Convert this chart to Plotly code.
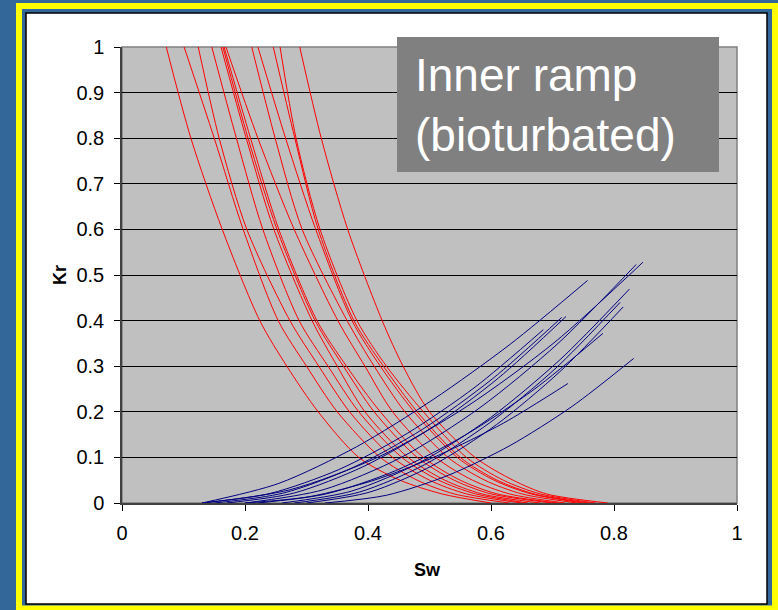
import plotly.graph_objects as go

# ---------------- data ----------------
# Oil relative permeability curves (red): Sw at fixed Kr levels
KRO_LEVELS = [1.0, 0.8, 0.6, 0.4, 0.3, 0.2, 0.1, 0.05, 0.02, 0.0]
KRO_SW_A = [0.072, 0.112, 0.163, 0.224, 0.268, 0.319, 0.385, 0.452, 0.520, 0.600]
KRO_SW_B = [0.101, 0.150, 0.197, 0.254, 0.300, 0.350, 0.420, 0.480, 0.540, 0.630]
KRO_SW_C = [0.124, 0.158, 0.203, 0.273, 0.320, 0.370, 0.440, 0.500, 0.560, 0.650]
KRO_SW_D = [0.146, 0.186, 0.229, 0.288, 0.335, 0.385, 0.455, 0.515, 0.575, 0.660]
KRO_SW_E = [0.161, 0.202, 0.247, 0.309, 0.350, 0.395, 0.465, 0.525, 0.585, 0.680]
KRO_SW_F = [0.164, 0.205, 0.252, 0.314, 0.360, 0.410, 0.480, 0.540, 0.600, 0.700]
KRO_SW_G = [0.166, 0.209, 0.255, 0.317, 0.365, 0.420, 0.490, 0.550, 0.610, 0.710]
KRO_SW_H = [0.169, 0.221, 0.280, 0.351, 0.395, 0.440, 0.510, 0.570, 0.630, 0.720]
KRO_SW_I = [0.211, 0.249, 0.293, 0.366, 0.410, 0.460, 0.530, 0.590, 0.650, 0.740]
KRO_SW_J = [0.221, 0.266, 0.315, 0.374, 0.420, 0.475, 0.545, 0.605, 0.665, 0.750]
KRO_SW_K = [0.246, 0.281, 0.319, 0.377, 0.425, 0.480, 0.550, 0.610, 0.670, 0.760]
KRO_SW_L = [0.257, 0.283, 0.322, 0.382, 0.430, 0.490, 0.560, 0.620, 0.680, 0.770]
KRO_SW_M = [0.289, 0.324, 0.367, 0.423, 0.457, 0.500, 0.574, 0.636, 0.690, 0.790]
KRO_CURVES = [KRO_SW_A, KRO_SW_B, KRO_SW_C, KRO_SW_D, KRO_SW_E, KRO_SW_F, KRO_SW_G,
              KRO_SW_H, KRO_SW_I, KRO_SW_J, KRO_SW_K, KRO_SW_L, KRO_SW_M]

# Water relative permeability curves (blue): (Sw, Kr) points
KRW_SW_1 = [0.130, 0.273, 0.417, 0.560, 0.704, 0.847]
KRW_KR_1 = [0.0, 0.029, 0.101, 0.211, 0.353, 0.528]
KRW_SW_2 = [0.200, 0.327, 0.454, 0.582, 0.709, 0.836]
KRW_KR_2 = [0.0, 0.029, 0.100, 0.209, 0.350, 0.523]
KRW_SW_3 = [0.130, 0.255, 0.381, 0.506, 0.632, 0.757]
KRW_KR_3 = [0.0, 0.043, 0.123, 0.227, 0.349, 0.488]
KRW_SW_4 = [0.260, 0.373, 0.486, 0.599, 0.712, 0.825]
KRW_KR_4 = [0.0, 0.026, 0.090, 0.187, 0.314, 0.469]
KRW_SW_5 = [0.280, 0.386, 0.492, 0.598, 0.704, 0.810]
KRW_KR_5 = [0.0, 0.024, 0.084, 0.176, 0.294, 0.440]
KRW_SW_6 = [0.300, 0.403, 0.506, 0.609, 0.712, 0.815]
KRW_KR_6 = [0.0, 0.024, 0.083, 0.172, 0.288, 0.430]
KRW_SW_7 = [0.170, 0.280, 0.391, 0.501, 0.612, 0.722]
KRW_KR_7 = [0.0, 0.022, 0.079, 0.163, 0.274, 0.409]
KRW_SW_8 = [0.150, 0.263, 0.376, 0.489, 0.602, 0.715]
KRW_KR_8 = [0.0, 0.022, 0.078, 0.162, 0.272, 0.407]
KRW_SW_9 = [0.130, 0.241, 0.352, 0.463, 0.574, 0.685]
KRW_KR_9 = [0.0, 0.021, 0.073, 0.152, 0.254, 0.380]
KRW_SW_10 = [0.220, 0.332, 0.445, 0.557, 0.670, 0.782]
KRW_KR_10 = [0.0, 0.020, 0.071, 0.148, 0.249, 0.372]
KRW_SW_11 = [0.330, 0.430, 0.531, 0.631, 0.732, 0.832]
KRW_KR_11 = [0.0, 0.017, 0.061, 0.126, 0.212, 0.317]
KRW_SW_12 = [0.200, 0.305, 0.410, 0.515, 0.620, 0.725]
KRW_KR_12 = [0.0, 0.014, 0.050, 0.105, 0.175, 0.262]
KRW_CURVES = [(KRW_SW_1, KRW_KR_1), (KRW_SW_2, KRW_KR_2), (KRW_SW_3, KRW_KR_3),
              (KRW_SW_4, KRW_KR_4), (KRW_SW_5, KRW_KR_5), (KRW_SW_6, KRW_KR_6),
              (KRW_SW_7, KRW_KR_7), (KRW_SW_8, KRW_KR_8), (KRW_SW_9, KRW_KR_9),
              (KRW_SW_10, KRW_KR_10), (KRW_SW_11, KRW_KR_11), (KRW_SW_12, KRW_KR_12)]

X_TICKS = [0, 0.2, 0.4, 0.6, 0.8, 1]
X_TICK_TEXT = ["0", "0.2", "0.4", "0.6", "0.8", "1"]
Y_TICKS = [0, 0.1, 0.2, 0.3, 0.4, 0.5, 0.6, 0.7, 0.8, 0.9, 1]
Y_TICK_TEXT = ["0", "0.1", "0.2", "0.3", "0.4", "0.5", "0.6", "0.7", "0.8", "0.9", "1"]
X_TITLE = "Sw"
Y_TITLE = "Kr"
BOX_TEXT = "Inner ramp<br>(bioturbated)"

# ---------------- layout helpers ----------------
W, H = 778, 610
ML, MR, MT, MB = 122, 41, 47, 107
PW = W - ML - MR
PH = H - MT - MB


def px(x):
    return (x - ML) / PW


def py(y):
    return (H - MB - y) / PH


FONT = "Arial, 'Liberation Sans', sans-serif"

fig = go.Figure()

for sw in KRO_CURVES:
    fig.add_trace(go.Scatter(x=sw, y=KRO_LEVELS, mode="lines",
                             line=dict(color="#FF0000", width=1, shape="spline", smoothing=0.8),
                             hoverinfo="skip", showlegend=False))

for sw, kr in KRW_CURVES:
    fig.add_trace(go.Scatter(x=sw, y=kr, mode="lines",
                             line=dict(color="#000080", width=1, shape="spline", smoothing=0.8),
                             hoverinfo="skip", showlegend=False))

shapes = [
    # yellow frame
    dict(type="rect", xref="paper", yref="paper", layer="below",
         x0=px(16), x1=px(790), y0=py(3), y1=py(620),
         fillcolor="#FFFF00", line=dict(width=0)),
    # inner blue band
    dict(type="rect", xref="paper", yref="paper", layer="below",
         x0=px(22), x1=px(772), y0=py(9), y1=py(605.5),
         fillcolor="#336699", line=dict(width=0)),
    # white chart area with black outline
    dict(type="rect", xref="paper", yref="paper", layer="below",
         x0=px(26), x1=px(767), y0=py(13), y1=py(604),
         fillcolor="#FFFFFF", line=dict(color="#000000", width=1.5)),
    # grey plot area
    dict(type="rect", xref="paper", yref="paper", layer="below",
         x0=0, x1=1, y0=0, y1=1,
         fillcolor="#C0C0C0", line=dict(color="#808080", width=1.5)),
    # label box
    dict(type="rect", xref="paper", yref="paper", layer="above",
         x0=px(397), x1=px(719), y0=py(37), y1=py(172),
         fillcolor="#808080", line=dict(width=0)),
]

annotations = [
    dict(text=BOX_TEXT, xref="paper", yref="paper", x=px(413), y=py(105),
         xanchor="left", yanchor="middle", align="left", showarrow=False,
         font=dict(family=FONT, size=46, color="#FFFFFF")),
    dict(text="<b>" + Y_TITLE + "</b>", xref="paper", yref="paper", x=px(60), y=py(275),
         xanchor="center", yanchor="middle", textangle=-90, showarrow=False,
         font=dict(family=FONT, size=18, color="#000000")),
    dict(text="<b>" + X_TITLE + "</b>", xref="paper", yref="paper", x=px(427), y=py(570),
         xanchor="center", yanchor="middle", showarrow=False,
         font=dict(family=FONT, size=18, color="#000000")),
]

fig.update_layout(
    width=W, height=H,
    margin=dict(l=ML, r=MR, t=MT, b=MB, pad=0),
    paper_bgcolor="#336699",
    plot_bgcolor="rgba(0,0,0,0)",
    shapes=shapes,
    annotations=annotations,
    showlegend=False,
    font=dict(family=FONT, color="#000000"),
    xaxis=dict(range=[0, 1], tickvals=X_TICKS, ticktext=X_TICK_TEXT,
               ticks="outside", ticklen=6, tickcolor="#000000", tickwidth=1,
               showgrid=False, zeroline=False, showline=True,
               linecolor="#404040", linewidth=2,
               tickfont=dict(family=FONT, size=20, color="#000000"),
               ticklabelstandoff=5, fixedrange=True),
    yaxis=dict(range=[0, 1], tickvals=Y_TICKS, ticktext=Y_TICK_TEXT,
               ticks="outside", ticklen=6, tickcolor="#000000", tickwidth=1,
               showgrid=True, gridcolor="#000000", gridwidth=1,
               zeroline=False, showline=True, linecolor="#404040", linewidth=1.5,
               tickfont=dict(family=FONT, size=20, color="#000000"),
               ticklabelstandoff=6, fixedrange=True),
)

fig.write_html("out.html")
